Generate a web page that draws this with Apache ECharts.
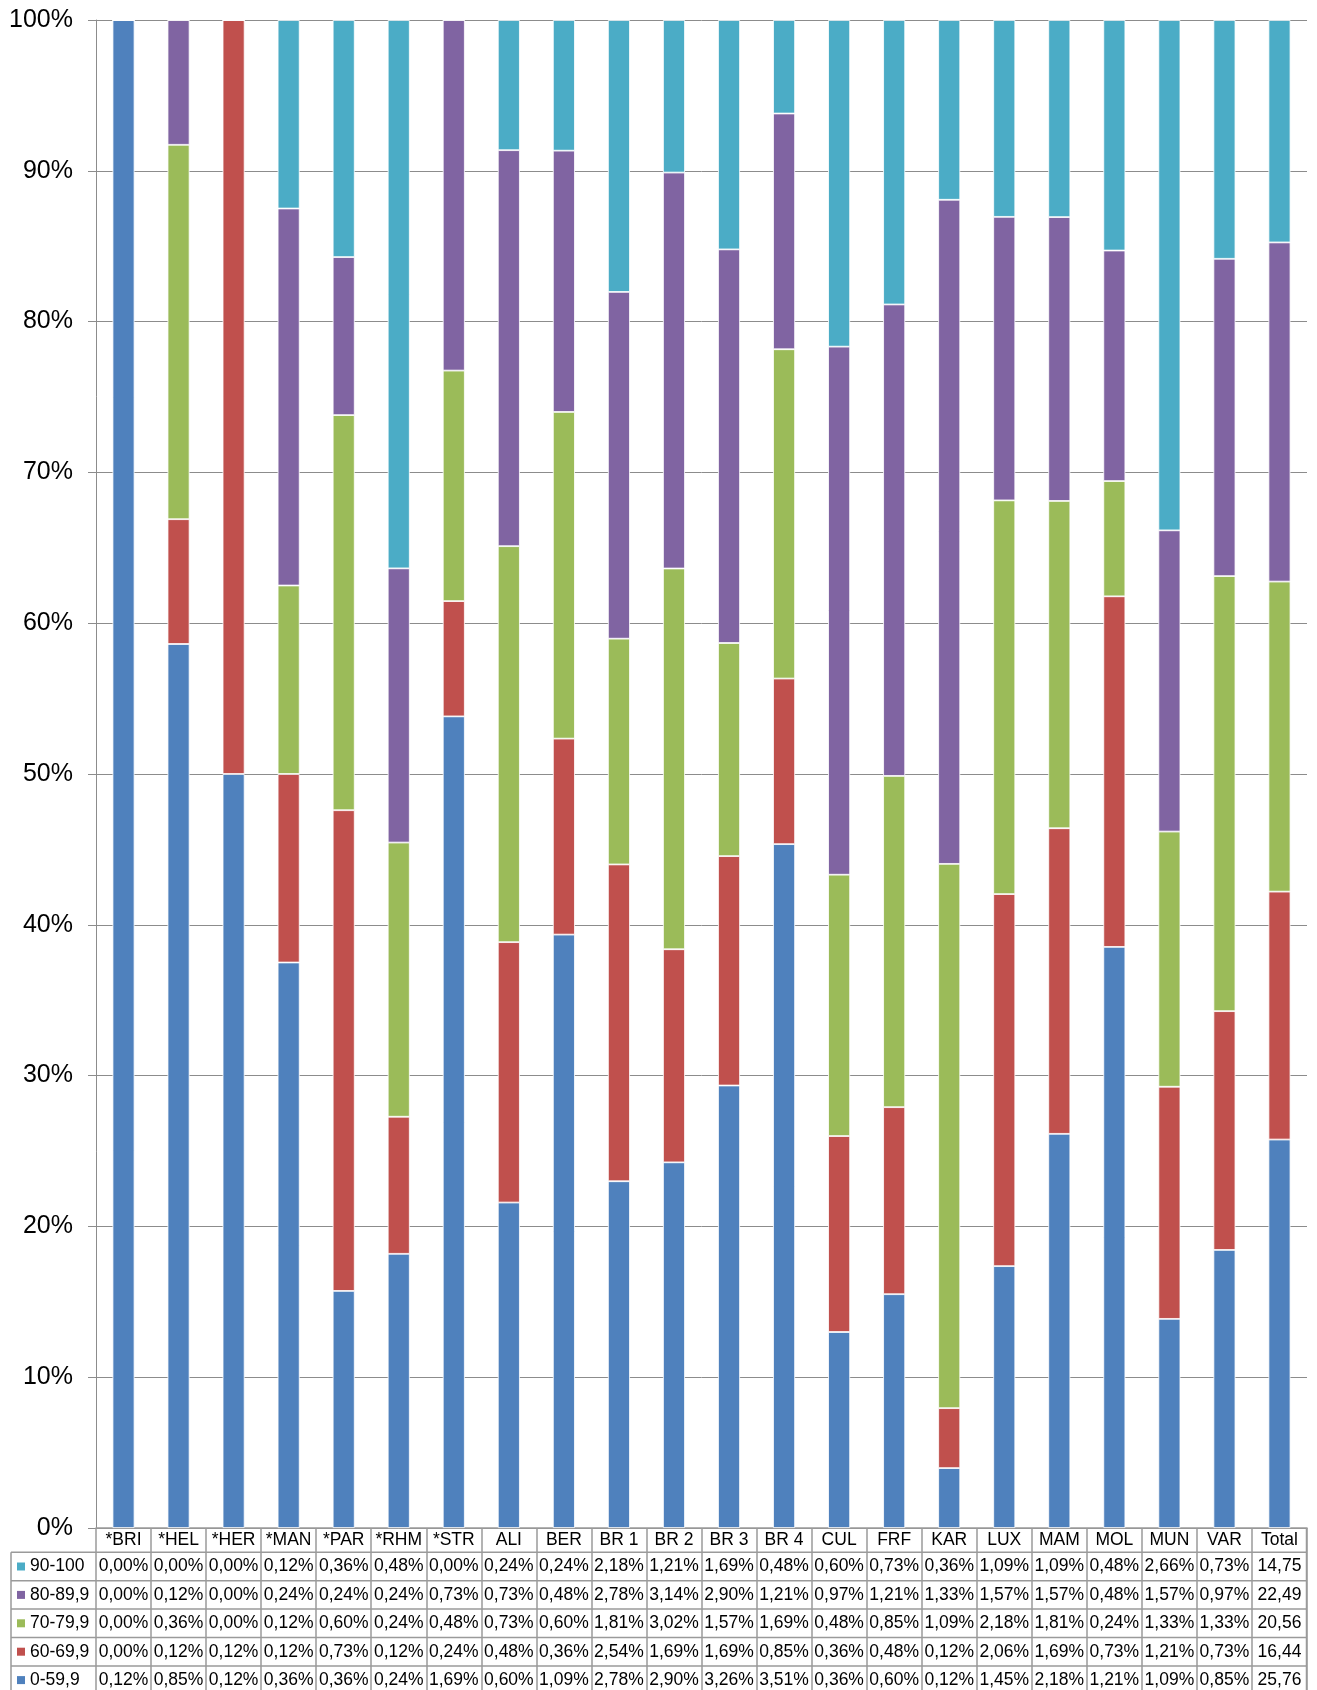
<!DOCTYPE html>
<html><head><meta charset="utf-8">
<script src="https://cdn.jsdelivr.net/npm/echarts@6/dist/echarts.min.js"></script>
<style>html,body{margin:0;padding:0;background:#fff}#c{width:1317px;height:1690px}</style>
</head><body><div id="c"></div>
<script>
const categories = ['*BRI','*HEL','*HER','*MAN','*PAR','*RHM','*STR','ALI','BER','BR 1','BR 2','BR 3','BR 4','CUL','FRF','KAR','LUX','MAM','MOL','MUN','VAR','Total'];
const seriesNames = ['0-59,9','60-69,9','70-79,9','80-89,9','90-100'];
const s0_59   = [0.12,0.85,0.12,0.36,0.36,0.24,1.69,0.60,1.09,2.78,2.90,3.26,3.51,0.36,0.60,0.12,1.45,2.18,1.21,1.09,0.85,25.76];
const s60_69  = [0.00,0.12,0.12,0.12,0.73,0.12,0.24,0.48,0.36,2.54,1.69,1.69,0.85,0.36,0.48,0.12,2.06,1.69,0.73,1.21,0.73,16.44];
const s70_79  = [0.00,0.36,0.00,0.12,0.60,0.24,0.48,0.73,0.60,1.81,3.02,1.57,1.69,0.48,0.85,1.09,2.18,1.81,0.24,1.33,1.33,20.56];
const s80_89  = [0.00,0.12,0.00,0.24,0.24,0.24,0.73,0.73,0.48,2.78,3.14,2.90,1.21,0.97,1.21,1.33,1.57,1.57,0.48,1.57,0.97,22.49];
const s90_100 = [0.00,0.00,0.00,0.12,0.36,0.48,0.00,0.24,0.24,2.18,1.21,1.69,0.48,0.60,0.73,0.36,1.09,1.09,0.48,2.66,0.73,14.75];
const yTicks = [0,10,20,30,40,50,60,70,80,90,100];

const colors = ['#4F81BD','#C0504D','#9BBB59','#8064A2','#4BACC6'];
const raw = [s0_59, s60_69, s70_79, s80_89, s90_100];
const totals = categories.map((c,i)=>raw.reduce((a,s)=>a+s[i],0));
const pct = raw.map(s=>s.map((v,i)=>totals[i]>0 ? v/totals[i]*100 : 0));

const FONT = '"Liberation Sans", Arial, sans-serif';
const gridLeft = 96, gridTop = 20, gridRight = 10, gridBottom = 162;
const W = 1317, H = 1690;
const plotRight = W - gridRight;
const axisY = H - gridBottom; // 1528
const headerBottom = 1552.3;
const rowH = 28.4;
const tableLeft = 11;
const lineColor = '#8c8c8c';
const tableLine = '#9a9a9a';

const chart = echarts.init(document.getElementById('c'), null, {renderer:'canvas'});
chart.setOption({
  animation:false,
  backgroundColor:'#fff',
  grid:{left:gridLeft, right:gridRight, top:gridTop, bottom:gridBottom, containLabel:false},
  xAxis:{type:'category', data:categories, boundaryGap:true,
    axisLine:{show:true, lineStyle:{color:tableLine, width:1.5}},
    axisTick:{show:true, length:H-axisY, lineStyle:{color:tableLine, width:1.5}},
    axisLabel:{color:'#000', fontFamily:FONT, fontSize:17.5, margin:12, verticalAlign:'middle', interval:0}},
  yAxis:{type:'value', min:yTicks[0], max:yTicks[yTicks.length-1], interval:10,
    axisLine:{show:true, lineStyle:{color:lineColor}},
    axisTick:{show:true, length:8, lineStyle:{color:lineColor}},
    splitLine:{show:true, lineStyle:{color:lineColor, width:1}},
    axisLabel:{color:'#000', fontFamily:FONT, fontSize:25, margin:23, formatter:'{value}%'}},
  series: seriesNames.map((n,k)=>({
    name:n, type:'bar', stack:'all', data:pct[k], barWidth:22,
    itemStyle:{color:colors[k], borderColor:'#fff', borderWidth:0.8}
  }))
});

// Data table below the chart
const graphics = [];
const rowOrder = [4,3,2,1,0];
for (let r=0; r<=5; r++){
  const y = headerBottom + r*rowH;
  graphics.push({type:'line', shape:{x1:tableLeft, y1:y, x2:plotRight, y2:y}, style:{stroke:tableLine, lineWidth:1.5}, silent:true});
}
graphics.push({type:'line', shape:{x1:tableLeft, y1:headerBottom, x2:tableLeft, y2:H}, style:{stroke:tableLine, lineWidth:1.5}, silent:true});
graphics.push({type:'line', shape:{x1:plotRight-0.5, y1:axisY, x2:plotRight-0.5, y2:H}, style:{stroke:tableLine, lineWidth:1.5}, silent:true});
rowOrder.forEach((k, r)=>{
  const yc = headerBottom + r*rowH + rowH/2;
  graphics.push({type:'rect', shape:{x:tableLeft+6, y:yc-4, width:8, height:8}, style:{fill:colors[k]}, silent:true});
  graphics.push({type:'text', x:tableLeft+19, y:yc, style:{text:seriesNames[k], fill:'#000', font:'17.5px '+FONT, textVerticalAlign:'middle', textAlign:'left'}, silent:true});
  categories.forEach((c,i)=>{
    const x = chart.convertToPixel({xAxisIndex:0}, c);
    const v = raw[k][i].toFixed(2).replace('.',',') + (c==='Total' ? '' : '%');
    graphics.push({type:'text', x:x, y:yc, style:{text:v, fill:'#000', font:'17.5px '+FONT, textVerticalAlign:'middle', textAlign:'center'}, silent:true});
  });
});
chart.setOption({graphic:graphics});
</script>
</body></html>
